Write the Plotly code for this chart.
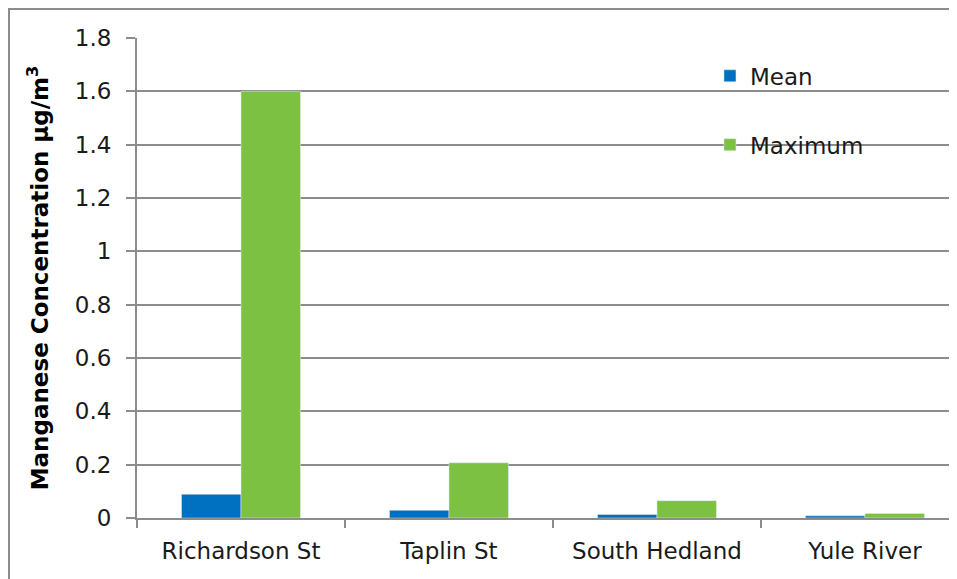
import plotly.graph_objects as go

# Manganese concentration by monitoring site
sites = ["Richardson St", "Taplin St", "South Hedland", "Yule River"]
mean_vals = [0.089, 0.029, 0.013, 0.008]
max_vals = [1.60, 0.207, 0.065, 0.017]
y_ticks = [0, 0.2, 0.4, 0.6, 0.8, 1, 1.2, 1.4, 1.6, 1.8]

FONT = "DejaVu Sans, sans-serif"
GREY = "#8C8C8C"

fig = go.Figure()
fig.add_trace(go.Bar(x=sites, y=mean_vals, name="Mean",
                     marker_color="#0070C0", legendgroup="a"))
fig.add_trace(go.Bar(x=sites, y=max_vals, name="Maximum",
                     marker_color="#7DC142", legendgroup="b"))

fig.update_layout(
    width=957, height=579,
    margin=dict(l=129, r=0, t=30, b=69),
    paper_bgcolor="white",
    plot_bgcolor="white",
    font=dict(family=FONT, size=23, color="#1a1a1a"),
    barmode="group",
    bargap=0.428,
    bargroupgap=0,
    legend=dict(x=0.692, y=0.966, xanchor="left", yanchor="top",
                bgcolor="rgba(0,0,0,0)", tracegroupgap=36,
                font=dict(size=23), itemwidth=30),
    showlegend=True,
)

fig.update_xaxes(
    type="category",
    range=[-0.5, 3.481],
    tickson="boundaries",
    ticks="outside", ticklen=8, tickcolor=GREY, tickwidth=2,
    showline=True, linecolor=GREY, linewidth=2,
    showgrid=False,
    tickfont=dict(size=23),
    ticklabelstandoff=11,
)

fig.update_yaxes(
    range=[0, 1.8],
    tickvals=y_ticks,
    ticks="outside", ticklen=9, tickcolor=GREY, tickwidth=2,
    showline=True, linecolor=GREY, linewidth=2,
    showgrid=True, gridcolor=GREY, gridwidth=2,
    zeroline=False,
    tickfont=dict(size=23),
    ticklabelstandoff=10,
    title=dict(text="Manganese Concentration µg/m<sup>3</sup>",
               font=dict(size=23, weight="bold", color="#000000"),
               standoff=20),
    automargin=False,
)

# outer chart frame along the figure edge
fig.add_shape(type="rect", xref="paper", yref="paper",
              x0=-128 / 828, x1=1.2, y0=-0.3, y1=1 + 29 / 480,
              line=dict(color=GREY, width=2), fillcolor="rgba(0,0,0,0)",
              layer="below")

fig.write_html("out.html")
